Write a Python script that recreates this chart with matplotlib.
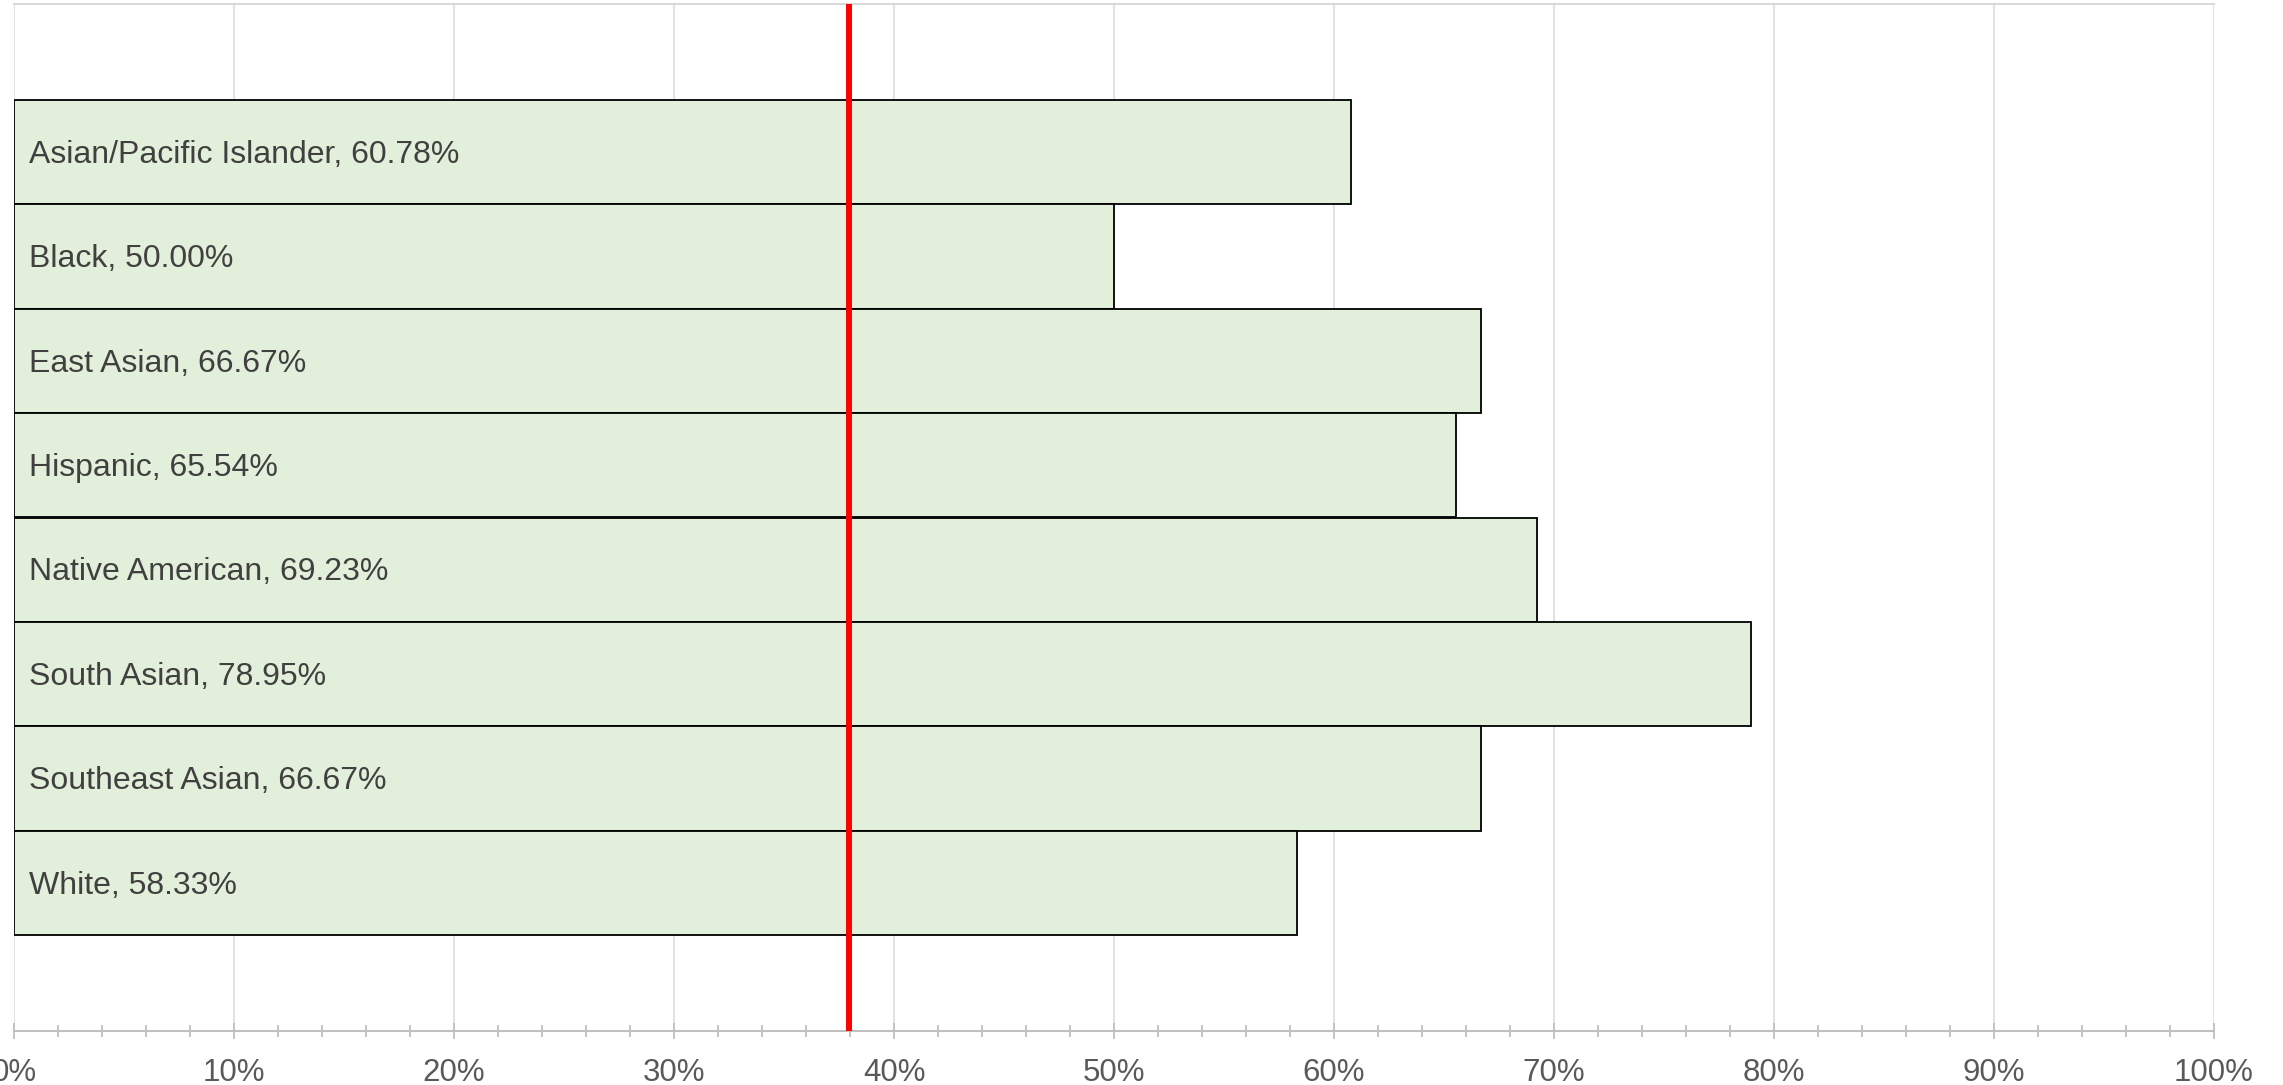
import matplotlib.pyplot as plt
from matplotlib.ticker import MultipleLocator, PercentFormatter

plt.rcParams['font.family'] = ['Liberation Sans', 'DejaVu Sans']

# data
groups = ['Asian/Pacific Islander', 'Black', 'East Asian', 'Hispanic',
          'Native American', 'South Asian', 'Southeast Asian', 'White']
rates = [60.78, 50.00, 66.67, 65.54, 69.23, 78.95, 66.67, 58.33]
overall_rate = 37.95

fig = plt.figure(figsize=(22.83, 10.85), dpi=100)
ax = fig.add_axes([14 / 2283, 1 - 1031 / 1085, 2200 / 2283, 1027 / 1085])

pos = list(range(len(groups)))
ax.barh(pos, rates, height=1.0, color='#e2efda', edgecolor='black',
        linewidth=1.3, zorder=2)

for p, g, r in zip(pos, groups, rates):
    ax.annotate(f'{g}, {r:.2f}%', xy=(0, p), xytext=(11, -2),
                textcoords='offset points', ha='left', va='center',
                fontsize=23, color='#404040', zorder=4)

ax.axvline(overall_rate, color='#ff0000', linewidth=4.3, zorder=3)

ax.set_xlim(0, 100)
ax.set_ylim(7.5 + 0.92, -0.5 - 0.92)
ax.set_yticks([])

ax.xaxis.set_major_locator(MultipleLocator(10))
ax.xaxis.set_minor_locator(MultipleLocator(2))
ax.xaxis.set_major_formatter(PercentFormatter(decimals=0))
ax.grid(axis='x', which='major', color='#d9d9d9', linewidth=1.1, zorder=0)
ax.set_axisbelow(True)

ax.tick_params(axis='x', which='major', direction='inout', length=11,
               width=1.3, color='#bfbfbf', labelsize=22.5, labelcolor='#595959',
               pad=14)
ax.tick_params(axis='x', which='minor', direction='inout', length=9,
               width=1.3, color='#bfbfbf')

for s in ['left', 'right']:
    ax.spines[s].set_visible(False)
ax.spines['top'].set_color('#d9d9d9')
ax.spines['top'].set_linewidth(1.5)
ax.spines['bottom'].set_color('#bfbfbf')
ax.spines['bottom'].set_linewidth(1.5)

fig.savefig('out.png', dpi=100)
